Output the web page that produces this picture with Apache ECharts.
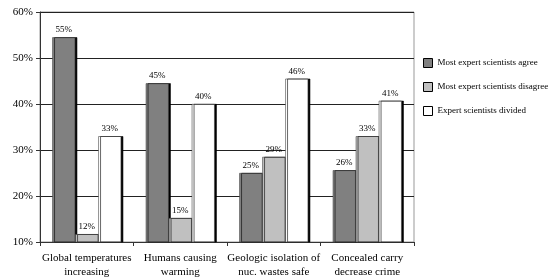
<!DOCTYPE html>
<html>
<head>
<meta charset="utf-8">
<script src="https://cdn.jsdelivr.net/npm/echarts@6/dist/echarts.min.js"></script>
<style>
  html,body{margin:0;padding:0;background:#fff}
  #chart{width:551px;height:279px}
</style>
</head>
<body>
<div id="chart"></div>
<script>
// categories and values
const categories = ['Global temperatures\nincreasing', 'Humans causing\nwarming', 'Geologic isolation of\nnuc. wastes safe', 'Concealed carry\ndecrease crime']
const agree = [54.5, 44.5, 25, 25.6]
const disagree = [11.7, 15.2, 28.5, 33]
const divided = [33, 40, 45.5, 40.7]
const seriesNames = ['Most expert scientists agree', 'Most expert scientists disagree', 'Expert scientists divided']
const seriesColors = ['#808080', '#c0c0c0', '#ffffff']

const font = '"Liberation Serif", "DejaVu Serif", serif'

const makeSeries = (name, data, color) => ({
  name: name,
  type: 'bar',
  data: data,
  barWidth: 23,
  barGap: '0%',
  itemStyle: {
    color: color,
    borderColor: '#444',
    borderWidth: 0.6,
    shadowColor: '#000',
    shadowOffsetX: 2,
    shadowOffsetY: 0,
    shadowBlur: 0
  },
  label: {
    show: true,
    position: 'top',
    distance: 3,
    fontFamily: font,
    fontSize: 9,
    color: '#000',
    formatter: p => Math.round(p.value) + '%'
  }
})

let chart = echarts.init(document.getElementById('chart'))
chart.setOption({
  animation: false,
  grid: {
    left: 40, right: 137, top: 12, bottom: 35,
    show: true,
    borderColor: '#999',
    borderWidth: 1
  },
  legend: {
    orient: 'vertical',
    left: 418,
    top: 53,
    itemWidth: 9,
    itemHeight: 9,
    itemGap: 14,
    icon: 'rect',
    itemStyle: { borderColor: '#000', borderWidth: 1, shadowColor: 'transparent', shadowOffsetX: 0 },
    textStyle: { fontFamily: font, fontSize: 9, color: '#000' },
    data: seriesNames
  },
  xAxis: {
    type: 'category',
    data: categories,
    axisLine: { lineStyle: { color: '#333', width: 1 } },
    axisTick: { show: true, length: 4, lineStyle: { color: '#333' } },
    axisLabel: { interval: 0, fontFamily: font, fontSize: 11, color: '#000', margin: 9, lineHeight: 14 }
  },
  yAxis: {
    type: 'value',
    min: 10,
    max: 60,
    interval: 10,
    axisLine: { show: true, lineStyle: { color: '#333', width: 1 } },
    axisTick: { show: true, length: 4, lineStyle: { color: '#333' } },
    axisLabel: { fontFamily: font, fontSize: 11, color: '#000', margin: 7, formatter: '{value}%' },
    splitLine: { show: true, lineStyle: { color: '#222', width: 1 } }
  },
  series: [
    makeSeries(seriesNames[0], agree, seriesColors[0]),
    makeSeries(seriesNames[1], disagree, seriesColors[1]),
    makeSeries(seriesNames[2], divided, seriesColors[2])
  ]
})
</script>
</body>
</html>
